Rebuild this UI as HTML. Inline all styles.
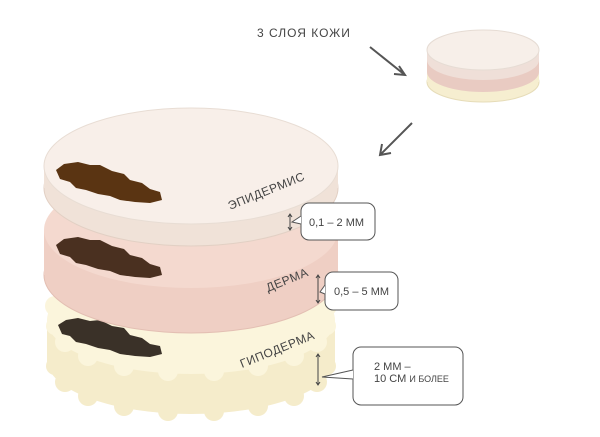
<!DOCTYPE html>
<html><head><meta charset="utf-8"><style>
body{margin:0;background:#fff}
svg{display:block}
text{font-family:"Liberation Sans","DejaVu Sans",sans-serif;fill:#444}
</style></head><body>
<svg width="600" height="437" viewBox="0 0 600 437" xmlns="http://www.w3.org/2000/svg">
<!-- hypoderm -->
<g fill="#f5eccb">
<ellipse cx="191" cy="360" rx="144" ry="54"/>
<rect x="47" y="322" width="288" height="40"/>
<circle cx="327" cy="366" r="9"/><circle cx="317" cy="382" r="10"/><circle cx="294" cy="396" r="10"/><circle cx="258" cy="406" r="10"/><circle cx="214" cy="411" r="10"/><circle cx="168" cy="411" r="10"/><circle cx="124" cy="406" r="10"/><circle cx="88" cy="396" r="10"/><circle cx="65" cy="382" r="10"/><circle cx="55" cy="366" r="9"/>
</g>
<g fill="#fbf5dc">
<ellipse cx="191" cy="320" rx="144" ry="54"/>
<circle cx="55" cy="326" r="9"/><circle cx="65" cy="342" r="10"/><circle cx="88" cy="356" r="10"/><circle cx="124" cy="366" r="10"/><circle cx="168" cy="371" r="10"/><circle cx="214" cy="371" r="10"/><circle cx="258" cy="366" r="10"/><circle cx="294" cy="356" r="10"/><circle cx="317" cy="342" r="10"/><circle cx="327" cy="326" r="9"/>
<circle cx="55" cy="306" r="10"/><circle cx="327" cy="306" r="10"/>
</g>
<path d="M58 325 L66 320 L78 318 L90 321 L100 320 L112 326 L124 328 L130 335 L142 338 L150 344 L160 346 L162 354 L150 357 L135 356 L120 354 L110 350 L98 348 L86 344 L76 342 L70 336 L62 334 Z" fill="#3a3128"/>
<!-- dermis -->
<ellipse cx="191" cy="275" rx="147" ry="58" fill="#efcfc4" stroke="#e3bfb3"/>
<rect x="44" y="230" width="294" height="45" fill="#efcfc4"/>
<ellipse cx="191" cy="230" rx="147" ry="58" fill="#f4d9cf"/>
<path d="M56 245 L64 239 L78 237 L90 240 L100 240 L112 246 L124 249 L130 255 L142 258 L150 264 L160 267 L162 275 L150 278 L135 277 L120 275 L110 271 L98 269 L86 265 L76 263 L70 257 L60 254 Z" fill="#4a3020"/>
<!-- epidermis -->
<ellipse cx="191" cy="188" rx="147" ry="58" fill="#f0e2d8" stroke="#e2d0c4"/>
<rect x="44" y="166" width="294" height="22" fill="#f0e2d8"/>
<ellipse cx="191" cy="166" rx="147" ry="58" fill="#f8efe9" stroke="#e8ddd4"/>
<path d="M56 170 L64 164 L78 162 L90 165 L100 165 L112 171 L124 174 L130 180 L142 183 L150 189 L160 192 L162 200 L150 203 L135 202 L120 200 L110 196 L98 194 L86 190 L76 188 L70 182 L60 179 Z" fill="#5a3412"/>
<!-- labels -->
<text x="230" y="210" font-size="12" transform="rotate(-22 230 210)" letter-spacing="0.5">ЭПИДЕРМИС</text>
<text x="268" y="292" font-size="12" transform="rotate(-22 268 292)" letter-spacing="0.5">ДЕРМА</text>
<text x="242" y="368" font-size="12" transform="rotate(-22 242 368)" letter-spacing="0.5" fill="#666">ГИПОДЕРМА</text>
<!-- dimension markers -->
<g stroke="#444" stroke-width="1" fill="none">
<path d="M290 214 V230 M288 217 L290 214 L292 217 M288 227 L290 230 L292 227"/>
<path d="M318 275 V303 M316 278 L318 275 L320 278 M316 300 L318 303 L320 300"/>
<path d="M318 354 V385 M316 357 L318 354 L320 357 M316 382 L318 385 L320 382"/>
</g>
<!-- callouts -->
<g fill="#fff" stroke="#555" stroke-width="1">
<rect x="301" y="203" width="74" height="37" rx="8"/>
<rect x="325" y="272" width="73" height="38" rx="8"/>
<rect x="353" y="347" width="110" height="58" rx="8"/>
</g>
<g fill="#fff" stroke="#555"><path d="M301 216 L292 222 L301 224"/><path d="M325 285 L320 292 L325 294"/><path d="M353 370 L322 377 L353 379"/></g>
<text x="309" y="226" font-size="11">0,1 – 2 ММ</text>
<text x="334" y="295" font-size="11">0,5 – 5 ММ</text>
<text x="374" y="370" font-size="11">2 ММ –</text>
<text x="374" y="382" font-size="11">10 СМ <tspan font-size="9">И БОЛЕЕ</tspan></text>
<!-- small disk -->
<ellipse cx="483" cy="82" rx="56" ry="20" fill="#f6eed0" stroke="#e6dcb8"/>
<rect x="427" y="70" width="112" height="12" fill="#f6eed0"/>
<ellipse cx="483" cy="72" rx="56" ry="20" fill="#e9cbc2"/>
<rect x="427" y="58" width="112" height="14" fill="#e9cbc2"/>
<ellipse cx="483" cy="60" rx="56" ry="20" fill="#efdfd8"/>
<rect x="427" y="50" width="112" height="10" fill="#efdfd8"/>
<ellipse cx="483" cy="50" rx="56" ry="20" fill="#f7efe9" stroke="#e6dcd4"/>
<text x="257" y="37" font-size="12" letter-spacing="1">3 СЛОЯ КОЖИ</text>
<g stroke="#555" stroke-width="2" fill="none">
<path d="M370 47 L405 75 M394 74 L405 75 L399 66"/>
<path d="M412 123 L380 155 M382 144 L380 155 L391 153"/>
</g>
</svg>
</body></html>
